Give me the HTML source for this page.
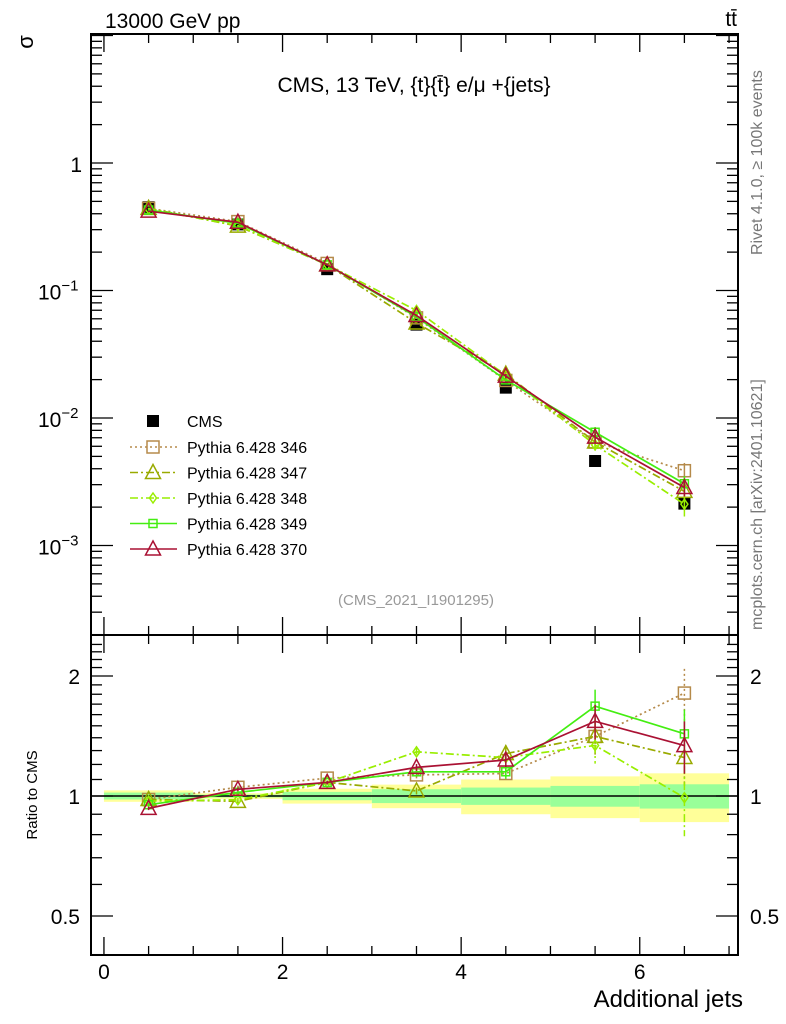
<!DOCTYPE html>
<html><head><meta charset="utf-8"><style>
body{margin:0;background:#fff;}
svg{display:block;font-family:"Liberation Sans",sans-serif;}
</style></head><body>
<svg id="c" width="786" height="1024" viewBox="0 0 786 1024"></svg>
<script>
const categories=[0.5,1.5,2.5,3.5,4.5,5.5,6.5];
const binEdges=[0,1,2,3,4,5,6,7];
const cmsValues=[0.45,0.33,0.147,0.054,0.0173,0.0046,0.00213];
const cmsStatRel=[0.02,0.008,0.024,0.04,0.05,0.06,0.07];
const cmsTotRel=[0.033,0.016,0.043,0.068,0.1,0.12,0.14];
const p346=[0.441,0.347,0.163,0.061,0.0197,0.00649,0.00386];
const p347=[0.441,0.320,0.159,0.0556,0.0221,0.00649,0.00266];
const p348=[0.437,0.323,0.159,0.0697,0.0216,0.00616,0.00211];
const p349=[0.428,0.337,0.159,0.0621,0.0199,0.00773,0.00305];
const p370=[0.419,0.343,0.159,0.0637,0.0213,0.00708,0.00285];
const errRel346=[0.01,0.01,0.01,0.02,0.03,0.1,0.15];
const errRel347=[0.01,0.01,0.01,0.02,0.05,0.1,0.15];
const errRel348=[0.01,0.01,0.01,0.03,0.04,0.1,0.2];
const errRel349=[0.01,0.01,0.01,0.02,0.04,0.1,0.15];
const errRel370=[0.01,0.01,0.01,0.02,0.04,0.1,0.15];
const xTicks=[0,2,4,6];
const ratioTicks=[0.5,1,2];

const NS="http://www.w3.org/2000/svg";
const svg=document.getElementById('c');
function el(t,a,p){const e=document.createElementNS(NS,t);for(const k in a)e.setAttribute(k,a[k]);(p||svg).appendChild(e);return e;}
const L=91,R=738,T=34,MB=635,RB=955;
const X=v=>L+(v+0.145)*89.3;
const Y=v=>163-127.5*Math.log10(v);
const YR=r=>796-120*Math.log2(r);

const bands=el('g',{});


categories.forEach((c,i)=>{
  const y1=YR(1+cmsTotRel[i]),y2=YR(1-cmsTotRel[i]);
  const r=el('rect',{x:X(binEdges[i]),y:y1,width:X(binEdges[i+1])-X(binEdges[i]),height:y2-y1,fill:'#ffff99'},bands);
  
  const g1=YR(1+cmsStatRel[i]),g2=YR(1-cmsStatRel[i]);
  const g=el('rect',{x:X(binEdges[i]),y:g1,width:X(binEdges[i+1])-X(binEdges[i]),height:g2-g1,fill:'#99ff99'},bands);
  
});
el('line',{x1:L,x2:R,y1:YR(1),y2:YR(1),stroke:'#000','stroke-width':1.5});

for(const [t,b] of [[T,MB],[MB,RB]]){
  const f=el('rect',{x:L,y:t,width:R-L,height:b-t,fill:'none',stroke:'#000','stroke-width':2});
  
  for(let v=0;v<=7.01;v+=0.5){const x=X(v),len=(v%2===0)?18:9;
    el('line',{x1:x,x2:x,y1:b,y2:b-len,stroke:'#000','stroke-width':1.3});
    el('line',{x1:x,x2:x,y1:t,y2:t+len,stroke:'#000','stroke-width':1.3});}
}
for(let d=-4;d<=1;d++)for(let m=1;m<10;m++){const v=m*Math.pow(10,d),y=Y(v);
  if(y<T||y>MB)continue;const len=m===1?22:11;
  el('line',{x1:L,x2:L+len,y1:y,y2:y,stroke:'#000','stroke-width':1.3});
  el('line',{x1:R,x2:R-len,y1:y,y2:y,stroke:'#000','stroke-width':1.3});}
const ml=[[1,"1",""],[0.1,"10","−1"],[0.01,"10","−2"],[0.001,"10","−3"]];
ml.forEach(([v,b,e])=>{const t=el('text',{x:e?38:82,y:Y(v)+9,'font-size':21,'text-anchor':e?'start':'end'});
  
  t.textContent=b;if(e){const s=el('tspan',{dy:-9,'font-size':15},t);s.textContent=e;}});
for(let v=0.4;v<=2.5;v+=0.1){const y=YR(v);if(y<MB||y>RB)continue;
  const major=Math.abs(v-0.5)<1e-6||Math.abs(v-1)<1e-6||Math.abs(v-2)<1e-6;const len=major?22:11;
  el('line',{x1:L,x2:L+len,y1:y,y2:y,stroke:'#000','stroke-width':1.3});
  el('line',{x1:R,x2:R-len,y1:y,y2:y,stroke:'#000','stroke-width':1.3});}
ratioTicks.forEach(v=>{
  const a=el('text',{x:80,y:YR(v)+8,'font-size':21,'text-anchor':'end'});a.textContent=String(v);
  
  const b=el('text',{x:750,y:YR(v)+8,'font-size':21});b.textContent=String(v);
  });
xTicks.forEach(v=>{const t=el('text',{x:X(v),y:979,'font-size':21,'text-anchor':'middle'});t.textContent=v;
  });

function txt(name,s,a){const t=el('text',a);t.textContent=s;return t;}
txt('x-axis-title','Additional jets',{x:743,y:1007,'font-size':24,'text-anchor':'end'});
txt('energy-label','13000 GeV pp',{x:105,y:28,'font-size':21});
txt('process-label','tt̄',{x:737,y:26,'font-size':21,'text-anchor':'end'});
txt('y-axis-title','σ',{x:0,y:0,'font-size':22,transform:'translate(33,42) rotate(-90)','text-anchor':'middle'});
txt('ratio-axis-title','Ratio to CMS',{x:0,y:0,'font-size':15,transform:'translate(37,795) rotate(-90)','text-anchor':'middle'});
txt('plot-title','CMS, 13 TeV, {t}{t̄} e/μ +{jets}',{x:414,y:92,'font-size':21,'text-anchor':'middle'});
txt('analysis-id','(CMS_2021_I1901295)',{x:416,y:605,'font-size':15,fill:'#999','text-anchor':'middle'});
txt('rivet-label','Rivet 4.1.0, ≥ 100k events',{x:0,y:0,'font-size':16,fill:'#777',transform:'translate(762,255) rotate(-90)'});
txt('mcplots-label','mcplots.cern.ch [arXiv:2401.10621]',{x:0,y:0,'font-size':16,fill:'#777',transform:'translate(762,630) rotate(-90)'});

const series=[
 {name:'346',vals:p346,err:errRel346,color:'#b58a4a',dash:'2,3',mk:'square'},
 {name:'347',vals:p347,err:errRel347,color:'#99aa00',dash:'8,3,2,3',mk:'tri'},
 {name:'348',vals:p348,err:errRel348,color:'#99ee00',dash:'8,3,2,3',mk:'diamond'},
 {name:'349',vals:p349,err:errRel349,color:'#44ee11',dash:'',mk:'plus'},
 {name:'370',vals:p370,err:errRel370,color:'#aa1133',dash:'',mk:'tri'}];
function marker(g,mk,x,y,c){
  if(mk==='square')el('rect',{x:x-6,y:y-6,width:12,height:12,fill:'none',stroke:c,'stroke-width':1.5},g);
  else if(mk==='tri')el('polygon',{points:`${x},${y-8} ${x-7.5},${y+6} ${x+7.5},${y+6}`,fill:'none',stroke:c,'stroke-width':1.5},g);
  else if(mk==='diamond')el('polygon',{points:`${x},${y-5} ${x-3.5},${y} ${x},${y+5} ${x+3.5},${y}`,fill:'none',stroke:c,'stroke-width':1.5},g);
  else if(mk==='plus'){el('rect',{x:x-4,y:y-4,width:8,height:8,fill:'none',stroke:c,'stroke-width':1.5},g);}
}
const cg=el('g',{});
categories.forEach((c,i)=>{el('rect',{x:X(c)-6,y:Y(cmsValues[i])-6,width:12,height:12,fill:'#000'},cg);});
series.forEach((s,si)=>{
  const g=el('g',{});
  const gr=el('g',{});
  const pm=categories.map((c,i)=>[X(c),Y(s.vals[i])]);
  const pr=categories.map((c,i)=>[X(c),YR(s.vals[i]/cmsValues[i])]);
  el('polyline',{points:pm.map(p=>p.join(',')).join(' '),fill:'none',stroke:s.color,'stroke-width':1.7,'stroke-dasharray':s.dash},g);
  el('polyline',{points:pr.map(p=>p.join(',')).join(' '),fill:'none',stroke:s.color,'stroke-width':1.7,'stroke-dasharray':s.dash},gr);
  categories.forEach((c,i)=>{
    const v=s.vals[i],e=s.err[i],r=v/cmsValues[i];
    el('line',{x1:X(c),x2:X(c),y1:Y(v*(1+e)),y2:Y(v*(1-e)),stroke:s.color,'stroke-width':1.5},g);
    el('line',{x1:X(c),x2:X(c),y1:YR(r*(1+e)),y2:YR(r*(1-e)),stroke:s.color,'stroke-width':1.5,'stroke-dasharray':s.dash},gr);
    marker(g,s.mk,pm[i][0],pm[i][1],s.color);
    marker(gr,s.mk,pr[i][0],pr[i][1],s.color);
  });
  const ly=447+si*25.5;
  const lg=el('g',{});
  el('line',{x1:130,x2:177,y1:ly,y2:ly,stroke:s.color,'stroke-width':1.5,'stroke-dasharray':s.dash},lg);
  marker(lg,s.mk,153,ly,s.color);
  const t=el('text',{x:187,y:ly+6,'font-size':16},lg);t.textContent='Pythia 6.428 '+s.name;
});
const lc=el('g',{});
el('rect',{x:147,y:415,width:12,height:12,fill:'#000'},lc);
const tc=el('text',{x:187,y:427,'font-size':16},lc);tc.textContent='CMS';
</script>
</body></html>
